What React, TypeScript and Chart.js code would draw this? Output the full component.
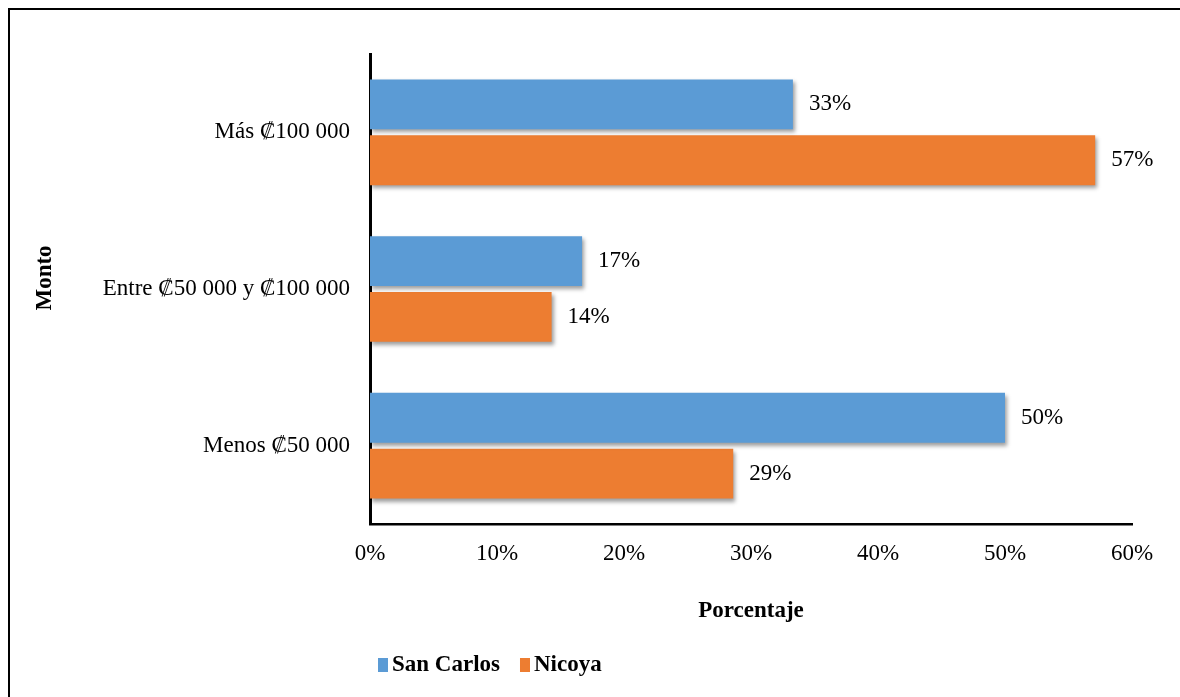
import React, { useEffect, useRef } from 'react';
import { Chart, registerables } from 'chart.js';

Chart.register(...registerables);

const categories = ['Más ₡100 000', 'Entre ₡50 000 y ₡100 000', 'Menos ₡50 000'];
const sanCarlos = [33.3, 16.7, 50.0];
const nicoya = [57.1, 14.3, 28.6];
const seriesNames = ['San Carlos', 'Nicoya'];
const seriesColors = ['#5B9BD5', '#ED7D31'];
const xMin = 0;
const xMax = 60;
const xStep = 10;
const xTitle = 'Porcentaje';
const yTitle = 'Monto';

const FONT = "'Liberation Serif', 'Times New Roman', serif";
const FS = 23;
const W = 1172;
const H = 689;

const decorPlugin = {
  id: 'decor',
  beforeDraw(chart: any) {
    const ctx = chart.ctx;
    ctx.save();
    ctx.fillStyle = '#ffffff';
    ctx.fillRect(0, 0, chart.width, chart.height);
    ctx.fillStyle = '#000000';
    ctx.fillRect(0, 0, chart.width, 2);
    ctx.fillRect(0, 0, 2, chart.height);
    ctx.restore();
  },
  beforeDatasetsDraw(chart: any) {
    const ctx = chart.ctx;
    ctx.save();
    ctx.shadowColor = 'rgba(0,0,0,0.38)';
    ctx.shadowBlur = 4;
    ctx.shadowOffsetX = 2;
    ctx.shadowOffsetY = 3;
  },
  afterDatasetsDraw(chart: any) {
    const ctx = chart.ctx;
    ctx.restore();
    ctx.save();
    ctx.font = `${FS}px ${FONT}`;
    ctx.fillStyle = '#000000';
    ctx.textAlign = 'left';
    ctx.textBaseline = 'middle';
    chart.data.datasets.forEach((ds: any, di: number) => {
      const meta = chart.getDatasetMeta(di);
      meta.data.forEach((el: any, i: number) => {
        const v = ds.data[i];
        ctx.fillText(Math.round(v) + '%', el.x + 16, el.y);
      });
    });
    ctx.restore();
  },
  afterDraw(chart: any) {
    const ctx = chart.ctx;
    ctx.save();
    // y-axis title
    ctx.font = `bold ${FS}px ${FONT}`;
    ctx.fillStyle = '#000000';
    ctx.textAlign = 'center';
    ctx.textBaseline = 'middle';
    ctx.translate(37, 270);
    ctx.rotate(-Math.PI / 2);
    ctx.fillText(yTitle, 0, 0);
    ctx.restore();

    ctx.save();
    ctx.font = `bold ${FS}px ${FONT}`;
    ctx.textBaseline = 'middle';
    ctx.textAlign = 'left';
    let x = 370;
    const cy = 657;
    chart.data.datasets.forEach((ds: any) => {
      ctx.fillStyle = ds.backgroundColor;
      ctx.fillRect(x, cy - 7, 10, 14);
      ctx.fillStyle = '#000000';
      ctx.fillText(ds.label, x + 14, cy);
      x += 14 + ctx.measureText(ds.label).width + 20;
    });
    ctx.restore();
  },
};

export default function App() {
  const ref = useRef<HTMLCanvasElement | null>(null);

  useEffect(() => {
    if (!ref.current) return;
    const chart = new Chart(ref.current, {
      type: 'bar',
      data: {
        labels: categories,
        datasets: [
          {
            label: seriesNames[0],
            data: sanCarlos,
            backgroundColor: seriesColors[0],
            categoryPercentage: 0.713,
            barPercentage: 0.893,
          },
          {
            label: seriesNames[1],
            data: nicoya,
            backgroundColor: seriesColors[1],
            categoryPercentage: 0.713,
            barPercentage: 0.893,
          },
        ],
      },
      options: {
        indexAxis: 'y',
        responsive: false,
        animation: false,
        events: [],
        layout: { padding: { top: 46, right: 48, left: 0, bottom: 0 } },
        plugins: {
          legend: { display: false },
          tooltip: { enabled: false },
        },
        scales: {
          x: {
            type: 'linear',
            min: xMin,
            max: xMax,
            z: 1,
            ticks: {
              stepSize: xStep,
              callback: (v: any) => v + '%',
              font: { family: FONT, size: FS },
              color: '#000000',
              padding: 16,
            },
            grid: { display: false, drawTicks: false },
            border: { display: true, color: '#000000', width: 2.5 },
            title: {
              display: true,
              text: xTitle,
              color: '#000000',
              font: { family: FONT, size: FS, weight: 'bold' },
              padding: { top: 0, bottom: 72 },
            },
            afterFit: (s: any) => {
              s.height = 173;
            },
          },
          y: {
            type: 'category',
            z: 1,
            ticks: {
              font: { family: FONT, size: FS },
              color: '#000000',
              padding: 20,
            },
            grid: { display: false, drawTicks: false },
            border: { display: true, color: '#000000', width: 3 },
            title: { display: false, text: yTitle },
            afterFit: (s: any) => {
              s.width = 362;
            },
          },
        },
      },
      plugins: [decorPlugin],
    } as any);
    return () => chart.destroy();
  }, []);

  return (
    <div style={{ position: 'fixed', left: 8, top: 8, width: W, height: H }}>
      <canvas ref={ref} width={W} height={H} style={{ display: 'block' }} />
    </div>
  );
}
